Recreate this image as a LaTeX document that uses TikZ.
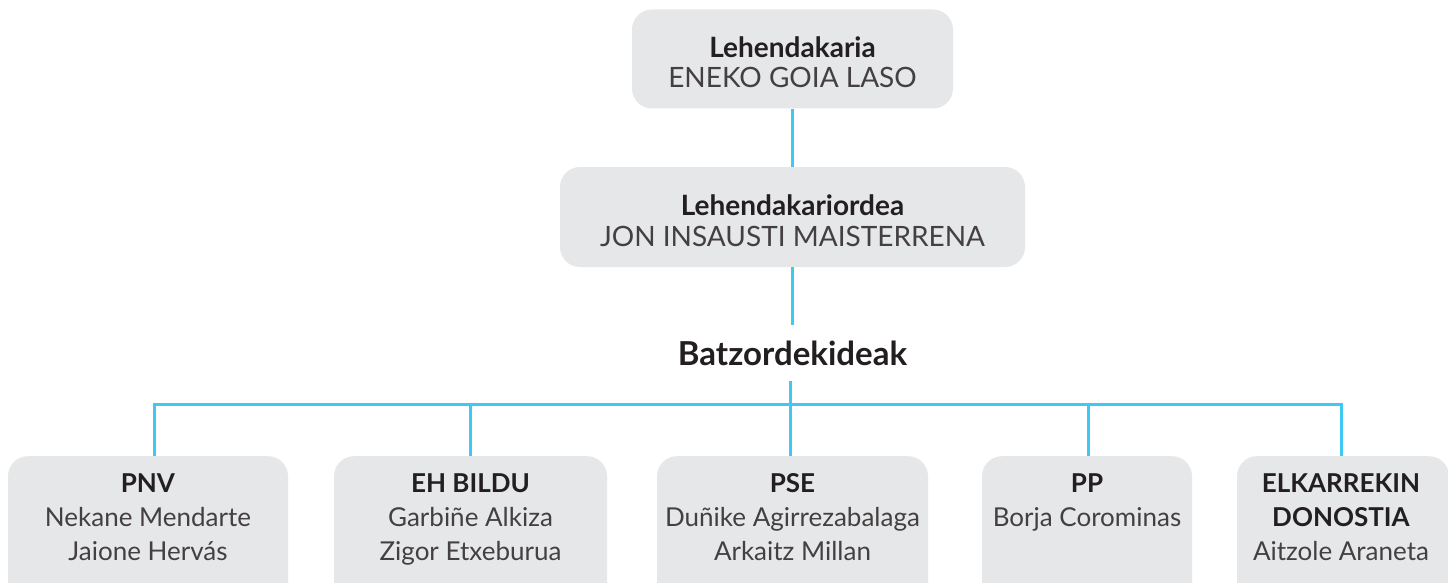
\documentclass[tikz,border=0pt]{standalone}
\usepackage{fontspec}
\setmainfont{Lato}
\definecolor{boxgray}{HTML}{E6E7E8}
\definecolor{linecyan}{HTML}{3FC8F4}
\definecolor{txtdark}{HTML}{231F20}
\definecolor{txtname}{HTML}{444041}
\tikzset{
  orgbox/.style={fill=boxgray, draw=none, rounded corners=20pt, inner sep=0pt},
  conn/.style={draw=linecyan, line width=3pt},
  head/.style={font=\fontsize{28}{30}\selectfont\bfseries, text=txtdark, inner sep=0pt},
  names/.style={font=\fontsize{28}{30}\selectfont, text=txtname, inner sep=0pt, align=center},
  bottxt/.style={font=\fontsize{26}{34}\selectfont, text=txtname, inner sep=0pt, align=center, anchor=north},
}
\newcommand{\hd}[1]{\textcolor{txtdark}{\textbf{#1}}}
\begin{document}
\begin{tikzpicture}[x=1pt,y=-1pt]
\clip (0,0) rectangle (1448,583);
\fill[white] (0,0) rectangle (1448,583);
% top boxes
\node[orgbox, minimum width=321pt, minimum height=99pt] (lehen) at (792.5,59) {};
\node[head] at (792.5,47) {Lehendakaria};
\node[names] at (792.5,77) {ENEKO GOIA LASO};
\node[orgbox, minimum width=465pt, minimum height=100pt] (orde) at (792.5,217) {};
\node[head] at (792.5,205) {Lehendakariordea};
\node[names] at (792.5,236) {JON INSAUSTI MAISTERRENA};
\node[inner sep=0pt, minimum height=56pt, minimum width=260pt, font=\fontsize{33}{36}\selectfont\bfseries, text=txtdark] (batz) at (792.5,353) {Batzordekideak};
% bottom boxes
\node[orgbox, minimum width=280pt, minimum height=150pt, anchor=north] (pnv) at (148,456) {};
\node[orgbox, minimum width=273pt, minimum height=150pt, anchor=north] (bildu) at (470.5,456) {};
\node[orgbox, minimum width=271pt, minimum height=150pt, anchor=north] (pse) at (792.5,456) {};
\node[orgbox, minimum width=210pt, minimum height=150pt, anchor=north] (pp) at (1087,456) {};
\node[orgbox, minimum width=212pt, minimum height=150pt, anchor=north] (elk) at (1343,456) {};
\node[bottxt] at (148,473.5) {\hd{PNV}\\Nekane Mendarte\\Jaione Hervás};
\node[bottxt] at (470.5,473.5) {\hd{EH BILDU}\\Garbiñe Alkiza\\Zigor Etxeburua};
\node[bottxt] at (792.5,473.5) {\hd{PSE}\\Duñike Agirrezabalaga\\Arkaitz Millan};
\node[bottxt] at (1087,473.5) {\hd{PP}\\Borja Corominas};
\node[bottxt] at (1341,473.5) {\hd{ELKARREKIN}\\\hd{DONOSTIA}\\Aitzole Araneta};
% connectors
\draw[conn] (lehen.south) -- (orde.north);
\draw[conn] (orde.south) -- (batz.north);
\coordinate (bus) at (790,404);
\draw[conn] ([xshift=6pt]pnv.north) |- (bus) -| ([xshift=-2pt]elk.north);
\draw[conn] ([xshift=-2.5pt]pse.north |- batz.south) -- ([xshift=-2.5pt]pse.north);
\draw[conn] (bildu.north) -- (bildu.north |- bus);
\draw[conn] ([xshift=1pt]pp.north) -- ([xshift=1pt]pp.north |- bus);
\end{tikzpicture}
\end{document}
